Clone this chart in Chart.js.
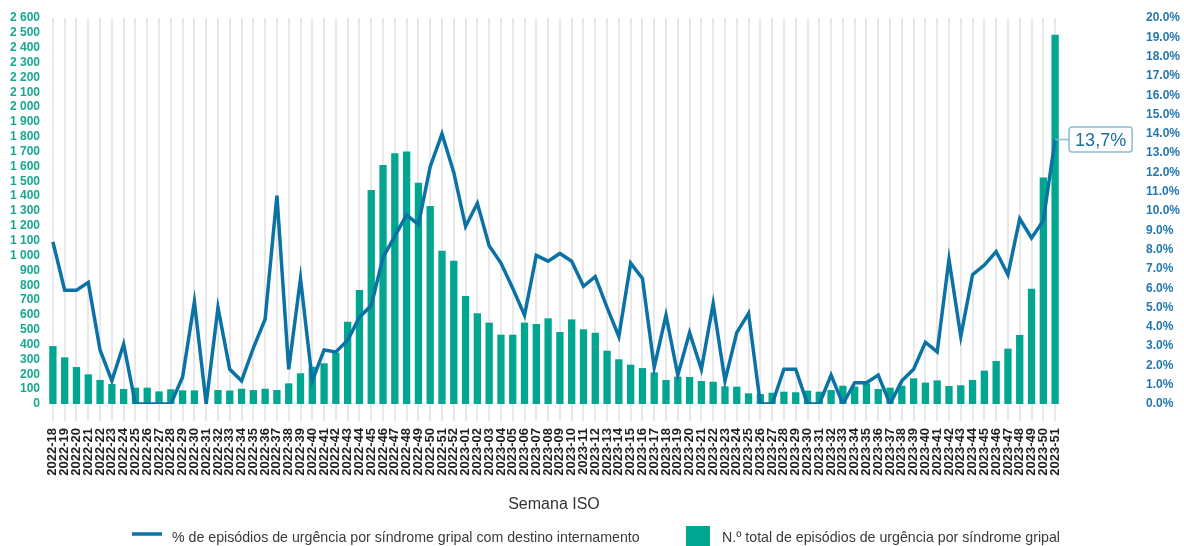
<!DOCTYPE html>
<html lang="pt">
<head>
<meta charset="utf-8">
<title>Síndrome gripal - episódios de urgência</title>
<script src="https://cdn.jsdelivr.net/npm/chart.js@4/dist/chart.umd.min.js"></script>
<style>
    body { margin: 0; background: #fff; }
    #wrap { width: 1184px; height: 546px; }
</style>
</head>
<body>
<div id="wrap"><canvas id="gripeChart" width="1184" height="546"></canvas></div>
<script>
// ISO weeks 2022-18 .. 2023-51
const weeks2022 = ['2022-18', '2022-19', '2022-20', '2022-21', '2022-22', '2022-23', '2022-24', '2022-25', '2022-26', '2022-27',
    '2022-28', '2022-29', '2022-30', '2022-31', '2022-32', '2022-33', '2022-34', '2022-35', '2022-36', '2022-37',
    '2022-38', '2022-39', '2022-40', '2022-41', '2022-42', '2022-43', '2022-44', '2022-45', '2022-46', '2022-47',
    '2022-48', '2022-49', '2022-50', '2022-51', '2022-52'];
const weeks2023 = ['2023-01', '2023-02', '2023-03', '2023-04', '2023-05', '2023-06', '2023-07', '2023-08', '2023-09', '2023-10',
    '2023-11', '2023-12', '2023-13', '2023-14', '2023-15', '2023-16', '2023-17', '2023-18', '2023-19', '2023-20',
    '2023-21', '2023-22', '2023-23', '2023-24', '2023-25', '2023-26', '2023-27', '2023-28', '2023-29', '2023-30',
    '2023-31', '2023-32', '2023-33', '2023-34', '2023-35', '2023-36', '2023-37', '2023-38', '2023-39', '2023-40',
    '2023-41', '2023-42', '2023-43', '2023-44', '2023-45', '2023-46', '2023-47', '2023-48', '2023-49', '2023-50',
    '2023-51'];
const weeks = weeks2022.concat(weeks2023);

// N.º total de episódios de urgência por síndrome gripal
const totalEpisodes = [390, 314, 249, 200, 162, 135, 101, 110, 110, 85,
    99, 92, 92, 0, 94, 91, 103, 94, 103, 94,
    139, 207, 251, 274, 346, 554, 768, 1441, 1610, 1689,
    1700, 1491, 1334, 1033, 965,
    727, 611, 548, 467, 467, 548, 539, 577, 485, 570,
    503, 480, 359, 301, 265, 242, 213, 162, 184, 182,
    155, 150, 119, 117, 72, 67, 76, 83, 79, 90,
    83, 94, 123, 117, 139, 101, 110, 123, 173, 144,
    159, 121, 126, 162, 225, 290, 373, 465, 777, 1525,
    2488];

// % de episódios com destino internamento
const pctHospitalised = [8.4, 5.9, 5.9, 6.3, 2.8, 1.2, 3.1, 0, 0, 0,
    0, 1.4, 5.3, 0, 5.0, 1.8, 1.2, 2.9, 4.4, 10.8,
    1.8, 6.5, 1.2, 2.8, 2.7, 3.3, 4.5, 5.1, 7.6, 8.7,
    9.8, 9.3, 12.3, 14.0, 12.0,
    9.2, 10.4, 8.2, 7.3, 6.0, 4.6, 7.7, 7.4, 7.8, 7.4,
    6.1, 6.6, 5.0, 3.5, 7.3, 6.5, 1.9, 4.6, 1.5, 3.7,
    1.8, 5.2, 1.2, 3.7, 4.7, 0, 0, 1.8, 1.8, 0,
    0, 1.5, 0, 1.1, 1.1, 1.5, 0, 1.2, 1.8, 3.2,
    2.7, 7.5, 3.5, 6.7, 7.2, 7.9, 6.7, 9.6, 8.6, 9.5,
    13.7];

const lineLabel = '% de episódios de urgência por síndrome gripal com destino internamento';
const barLabel = 'N.º total de episódios de urgência por síndrome gripal';

const TEAL = '#00a690';
const BLUE = '#0a72a5';
const FONT = "'Liberation Sans', Arial, sans-serif";

function formatThousands(v) {
    if (v < 1000) return String(v);
    return Math.floor(v / 1000) + ' ' + String(v % 1000).padStart(3, '0');
}

// boxed value next to the last point of the line
const lastValueLabel = {
    id: 'lastValueLabel',
    afterDatasetsDraw(chart) {
        const ctx = chart.ctx;
        const meta = chart.getDatasetMeta(0);
        const pt = meta.data[meta.data.length - 1];
        const value = pctHospitalised[pctHospitalised.length - 1];
        const text = value.toFixed(1).replace('.', ',') + '%';

        ctx.save();
        ctx.font = '18px ' + FONT;
        const w = ctx.measureText(text).width + 12;
        const h = 25;
        const bx = pt.x + 14;
        const by = pt.y - h / 2;

        ctx.strokeStyle = '#8cbbd6';
        ctx.lineWidth = 1.5;
        ctx.beginPath();
        ctx.moveTo(pt.x, pt.y);
        ctx.lineTo(bx, pt.y);
        ctx.stroke();

        ctx.fillStyle = '#fff';
        ctx.beginPath();
        ctx.roundRect(bx, by, w, h, 3);
        ctx.fill();
        ctx.stroke();

        ctx.fillStyle = '#1d6e9e';
        ctx.textAlign = 'center';
        ctx.textBaseline = 'middle';
        ctx.fillText(text, bx + w / 2, pt.y + 1);
        ctx.restore();
    }
};

// legend row along the bottom edge
const bottomLegend = {
    id: 'bottomLegend',
    afterDraw(chart) {
        const ctx = chart.ctx;
        ctx.save();
        ctx.font = '14.2px ' + FONT;
        ctx.fillStyle = '#3a3a3a';
        ctx.textBaseline = 'middle';

        ctx.strokeStyle = BLUE;
        ctx.lineWidth = 3.5;
        ctx.beginPath();
        ctx.moveTo(132, 534);
        ctx.lineTo(162, 534);
        ctx.stroke();
        ctx.fillText(lineLabel, 172, 538);

        ctx.fillStyle = TEAL;
        ctx.fillRect(686, 526, 24, 24);
        ctx.fillStyle = '#3a3a3a';
        ctx.fillText(barLabel, 722, 538);
        ctx.restore();
    }
};

const ctx = document.getElementById('gripeChart').getContext('2d');

const myChart = new Chart(ctx, {
    type: 'bar',
    data: {
        labels: weeks,
        datasets: [
            {
                type: 'line',
                label: lineLabel,
                data: pctHospitalised,
                yAxisID: 'y1',
                borderColor: BLUE,
                borderWidth: 3.5,
                pointRadius: 0,
                tension: 0,
                order: 0
            },
            {
                type: 'bar',
                label: barLabel,
                data: totalEpisodes,
                yAxisID: 'y',
                backgroundColor: TEAL,
                barPercentage: 0.62,
                categoryPercentage: 1,
                order: 1
            }
        ]
    },
    options: {
        responsive: false,
        animation: false,
        layout: { padding: { top: 18, bottom: 32, left: 0, right: 0 } },
        plugins: {
            legend: { display: false },
            tooltip: { enabled: false }
        },
        scales: {
            x: {
                offset: true,
                grid: { offset: false, color: '#e8e8e8', lineWidth: 2, drawTicks: true, tickLength: 17 },
                border: { display: false },
                ticks: {
                    autoSkip: false,
                    minRotation: 90,
                    maxRotation: 90,
                    padding: 7,
                    color: '#1e1e1e',
                    font: { family: FONT, size: 13, weight: 'bold' }
                },
                title: {
                    display: true,
                    text: 'Semana ISO',
                    color: '#333',
                    padding: 0,
                    font: { family: FONT, size: 16 }
                },
                afterFit: (scale) => { scale.height = 110; }
            },
            y: {
                position: 'left',
                min: 0,
                max: 2600,
                grid: { display: false, drawTicks: false },
                border: { display: false },
                ticks: {
                    stepSize: 100,
                    autoSkip: false,
                    padding: 7,
                    color: '#17a88f',
                    font: { family: FONT, size: 12, weight: 'bold' },
                    callback: (v) => formatThousands(v)
                },
                afterFit: (scale) => { scale.width = 47; }
            },
            y1: {
                position: 'right',
                min: 0,
                max: 20,
                // hidden tick marks only push the labels away from the plot
                grid: { display: false, drawTicks: true, tickLength: 78 },
                border: { display: false },
                ticks: {
                    stepSize: 1,
                    autoSkip: false,
                    padding: 7,
                    color: '#2478b0',
                    font: { family: FONT, size: 12, weight: 'bold' },
                    callback: (v) => v.toFixed(1) + '%'
                },
                afterFit: (scale) => { scale.width = 123; }
            }
        }
    },
    plugins: [lastValueLabel, bottomLegend]
});
</script>
</body>
</html>
